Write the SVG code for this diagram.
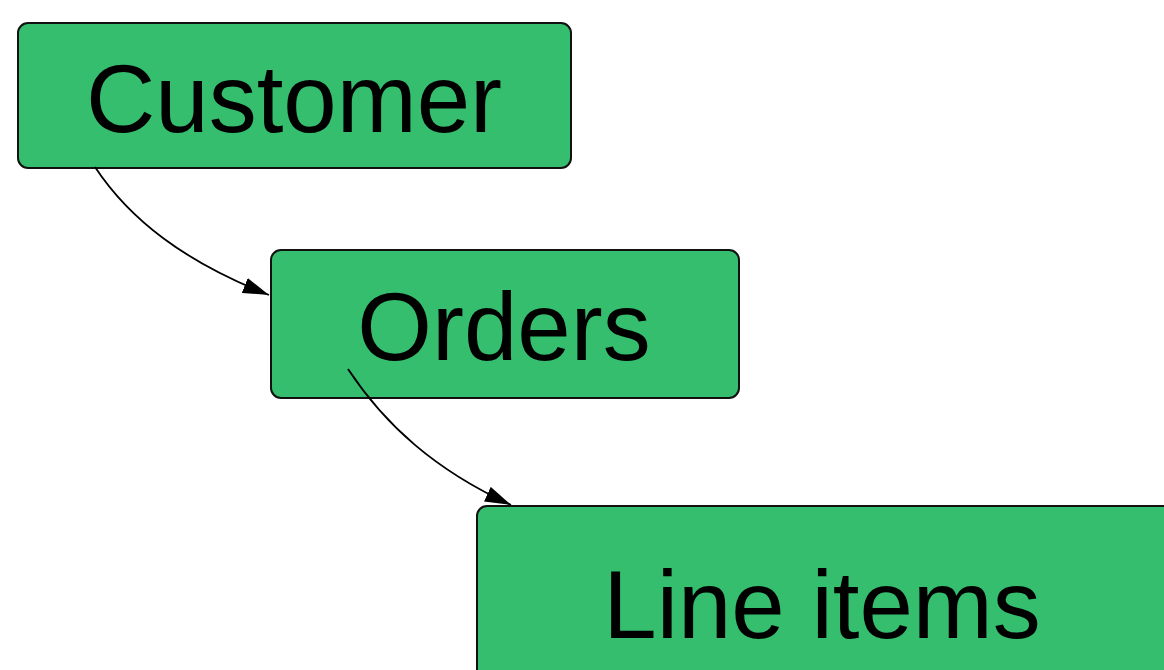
<svg xmlns="http://www.w3.org/2000/svg" width="1164" height="670" viewBox="0 0 1164 670">
  <style>
    .node rect { fill: #34be6e; stroke: #111; stroke-width: 2; }
    .node text { font-family: "Liberation Sans", Arial, sans-serif; font-size: 96px; fill: #000; text-anchor: middle; }
    .edge { fill: none; stroke: #000; stroke-width: 1.8; }
  </style>
  <defs>
    <marker id="arrow" viewBox="0 0 26 16" refX="26" refY="8" markerWidth="26" markerHeight="16" markerUnits="userSpaceOnUse" orient="auto">
      <path d="M0,0 L26,8 L0,16 z" fill="#000"/>
    </marker>
  </defs>

  <g id="node-customer" class="node">
    <rect x="18" y="23" width="553" height="145" rx="10"/>
    <text x="294" y="132">Customer</text>
  </g>
  <g id="node-orders" class="node">
    <rect x="271" y="250" width="468" height="148" rx="10"/>
    <text x="504" y="360">Orders</text>
  </g>
  <g id="node-line-items" class="node">
    <rect x="477" y="506" width="720" height="200" rx="10"/>
    <text x="822" y="638">Line items</text>
  </g>

  <g id="connectors">
    <path class="edge" d="M95,167 C130,220 185,262 269,295" marker-end="url(#arrow)"/>
    <path class="edge" d="M348,369 C385,425 435,470 511,505" marker-end="url(#arrow)"/>
  </g>
</svg>
